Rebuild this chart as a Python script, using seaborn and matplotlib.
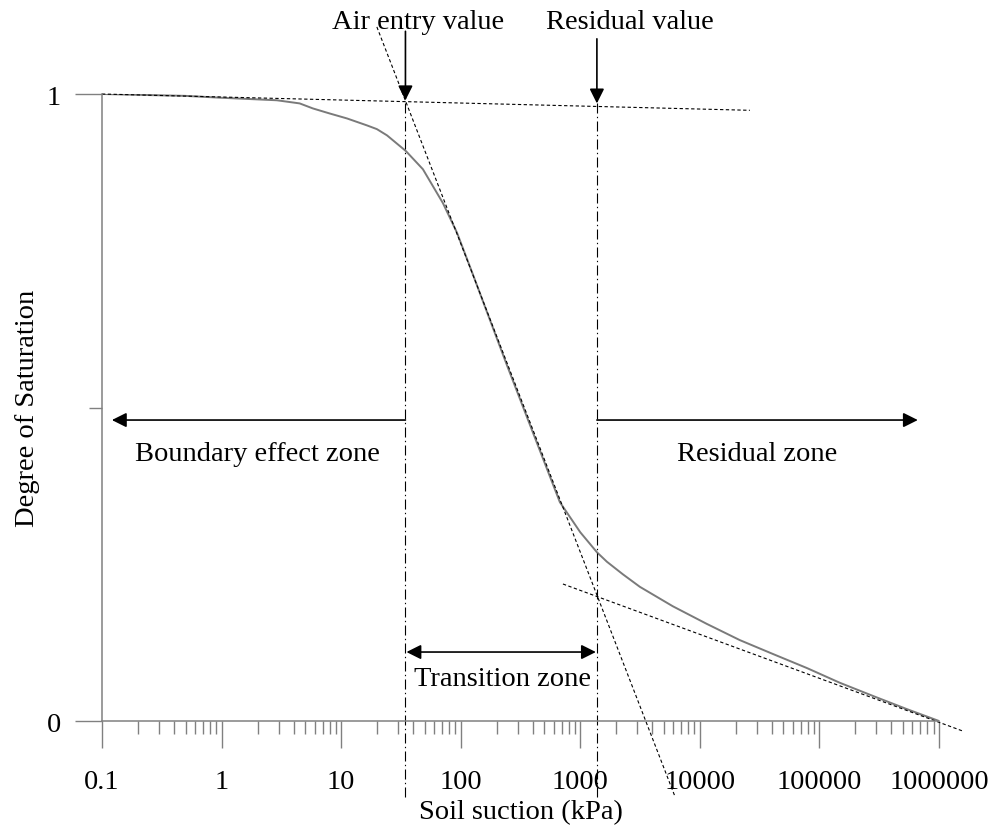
import numpy as np
import matplotlib
matplotlib.use("Agg")
import matplotlib.pyplot as plt
import seaborn as sns
from matplotlib.ticker import FixedLocator, FixedFormatter, LogLocator, NullFormatter

# Soil-water characteristic curve (degree of saturation vs. soil suction)
suction = [0.1, 0.5, 1.0, 2.9, 4.5, 5.8, 8.0, 11.2, 16.4, 19.9, 24.2, 34.8, 48.3,
           71, 93, 126, 153, 243, 400, 675, 1000, 1380, 1670, 2270, 3150, 5940,
           11400, 21600, 40700, 78500, 148000, 280000, 538000, 1000000]
saturation = [1.000, 0.997, 0.994, 0.990, 0.985, 0.977, 0.969, 0.961, 0.950, 0.944,
              0.934, 0.909, 0.880, 0.826, 0.779, 0.713, 0.670, 0.568, 0.461, 0.349,
              0.301, 0.269, 0.254, 0.234, 0.214, 0.183, 0.155, 0.129, 0.107, 0.0845,
              0.061, 0.040, 0.019, 0.000]

# Construction lines (end points)
top_tangent_x = [0.1, 26200]
top_tangent_y = [1.000, 0.974]
steep_tangent_x = [19.9, 6180]
steep_tangent_y = [1.107, -0.120]
residual_tangent_x = [716, 1580000]
residual_tangent_y = [0.2185, -0.016]

air_entry_value = 34.5
residual_value = 1377

x_ticks = [0.1, 1, 10, 100, 1000, 10000, 100000, 1000000]
x_tick_labels = ["0.1", "1", "10", "100", "1000", "10000", "100000", "1000000"]
y_ticks = [0, 1]
y_tick_labels = ["0", "1"]

sns.set_style("ticks")
plt.rcParams["font.family"] = ["Liberation Serif", "DejaVu Serif"]
plt.rcParams["text.color"] = "black"
plt.rcParams["axes.labelcolor"] = "black"

FS = 20.5
GREY = "#808080"

fig = plt.figure(figsize=(9.98, 8.29), dpi=100)
ax = fig.add_axes([0.1022, 0.12907, 0.83868, 0.75633])
ax.set_xscale("log")

sns.lineplot(x=suction, y=saturation, ax=ax, color="#7a7a7a", lw=1.4,
             estimator=None, sort=False, solid_joinstyle="round")

dash = (0, (3, 2.2))
for xs, ys in [(top_tangent_x, top_tangent_y),
               (steep_tangent_x, steep_tangent_y),
               (residual_tangent_x, residual_tangent_y)]:
    ax.plot(xs, ys, color="black", lw=0.8, linestyle=dash, clip_on=False)

dashdot = (0, (9, 3, 1.2, 3))
for xv in (air_entry_value, residual_value):
    ax.plot([xv, xv], [0.985, -0.124], color="black", lw=0.8,
            linestyle=dashdot, clip_on=False)

ax.set_xlim(0.1, 1e6)
ax.set_ylim(0, 1)

ax.xaxis.set_major_locator(FixedLocator(x_ticks))
ax.xaxis.set_major_formatter(FixedFormatter(x_tick_labels))
ax.xaxis.set_minor_locator(LogLocator(base=10, subs=np.arange(2, 10)))
ax.xaxis.set_minor_formatter(NullFormatter())
ax.yaxis.set_major_locator(FixedLocator(y_ticks))
ax.yaxis.set_major_formatter(FixedFormatter(y_tick_labels))
ax.yaxis.set_minor_locator(FixedLocator([0.5]))
ax.yaxis.set_minor_formatter(NullFormatter())

ax.tick_params(which="major", length=19.4, width=1.0, color=GREY,
               direction="out", labelsize=FS, labelcolor="black",
               bottom=True, left=True)
ax.tick_params(axis="x", which="major", pad=15)
ax.tick_params(axis="y", which="major", pad=10)
ax.tick_params(which="minor", length=9.4, width=1.0, color=GREY,
               direction="out", bottom=True, left=True)

sns.despine(ax=ax)
for side in ("left", "bottom"):
    ax.spines[side].set_color(GREY)
    ax.spines[side].set_linewidth(1.1)

ax.set_xlabel("Soil suction (kPa)", fontsize=FS, labelpad=4)
ax.set_ylabel("Degree of Saturation", fontsize=FS, labelpad=5)

head = dict(color="black", lw=1.2, mutation_scale=22, shrinkA=0, shrinkB=0)

# Key values with pointer arrows
ax.annotate("", xy=(air_entry_value, 0.990), xytext=(air_entry_value, 1.100),
            arrowprops=dict(arrowstyle="-|>", **head), annotation_clip=False)
ax.annotate("", xy=(residual_value, 0.985), xytext=(residual_value, 1.088),
            arrowprops=dict(arrowstyle="-|>", **head), annotation_clip=False)
ax.text(43.9, 1.115, "Air entry value", fontsize=FS, ha="center", va="center")
ax.text(2600, 1.115, "Residual value", fontsize=FS, ha="center", va="center")

# Zones
zone_y = 0.48
ax.annotate("", xy=(0.121, zone_y), xytext=(air_entry_value, zone_y),
            arrowprops=dict(arrowstyle="-|>", **head))
ax.annotate("", xy=(665000, zone_y), xytext=(residual_value, zone_y),
            arrowprops=dict(arrowstyle="-|>", **head))
ax.annotate("", xy=(air_entry_value * 1.02, 0.110), xytext=(residual_value / 1.02, 0.110),
            arrowprops=dict(arrowstyle="<|-|>", **head))

ax.text(1.98, 0.426, "Boundary effect zone", fontsize=FS, ha="center", va="center")
ax.text(30000, 0.426, "Residual zone", fontsize=FS, ha="center", va="center")
ax.text(225, 0.067, "Transition zone", fontsize=FS, ha="center", va="center")

fig.savefig("out.png", dpi=100)
